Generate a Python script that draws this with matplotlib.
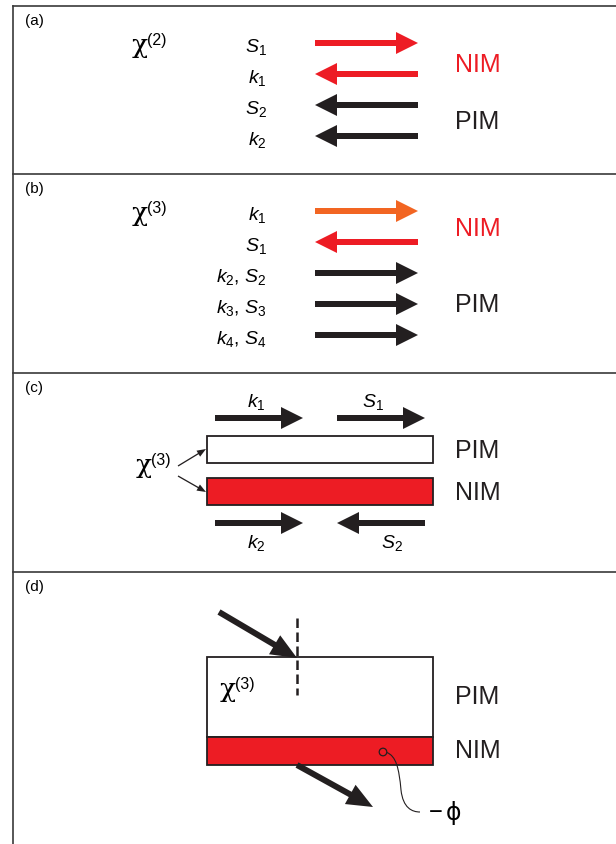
import matplotlib
matplotlib.use("Agg")
import matplotlib.pyplot as plt
from matplotlib.patches import Rectangle, Circle, PathPatch
from matplotlib.path import Path

plt.rcParams['font.family'] = ['Liberation Sans', 'DejaVu Sans']
plt.rcParams['mathtext.fontset'] = 'custom'
plt.rcParams['mathtext.rm'] = 'Liberation Sans'
plt.rcParams['mathtext.it'] = 'Liberation Sans:italic'

RED = '#ed1c24'
ORANGE = '#f26522'
BLACK = '#231f20'
FRAME = '#3a3a3a'

# panel (a): chi(2) waves
a_labels = [r'$S_1$', r'$k_1$', r'$S_2$', r'$k_2$']
a_dirs = [1, -1, -1, -1]
a_colors = [RED, RED, BLACK, BLACK]

# panel (b): chi(3) waves
b_labels = [r'$k_1$', r'$S_1$', r'$k_2$, $S_2$', r'$k_3$, $S_3$', r'$k_4$, $S_4$']
b_dirs = [1, -1, 1, 1, 1]
b_colors = [ORANGE, RED, BLACK, BLACK, BLACK]

# panel (c): waves above / below the slabs
c_top_labels = [r'$k_1$', r'$S_1$']
c_top_dirs = [1, 1]
c_bot_labels = [r'$k_2$', r'$S_2$']
c_bot_dirs = [1, -1]

panel_tags = ['(a)', '(b)', '(c)', '(d)']
panel_tops = [6, 174, 373, 572]

fig = plt.figure(figsize=(6.16, 8.44), dpi=100)
ax = fig.add_axes([0, 0, 1, 1])
ax.set_xlim(0, 616)
ax.set_ylim(844, 0)
ax.axis('off')


def arrow(x0, x1, y0, y1, color, w=6, hw=22, hl=22):
    ax.arrow(x0, y0, x1 - x0, y1 - y0, width=w, head_width=hw, head_length=hl,
             length_includes_head=True, color=color, lw=0)


def chi(x, yb, order):
    # chi drawn on baseline yb, superscript order tucked right after it
    ax.text(x, yb, 'χ', family='DejaVu Serif', fontsize=19, ha='left', va='baseline')
    ax.text(x + 15.5, yb - 8, '(%d)' % order, fontsize=11.5, ha='left', va='baseline')


def pim_nim(y_pim, y_nim, nim_color):
    ax.text(455, y_pim, 'PIM', color=BLACK, fontsize=18, ha='left', va='center')
    ax.text(455, y_nim, 'NIM', color=nim_color, fontsize=18, ha='left', va='center')


# frames
for y in panel_tops:
    ax.plot([13, 616], [y, y], color=FRAME, lw=1.2)
ax.plot([13, 13], [6, 844], color=FRAME, lw=1.2)
for tag, y in zip(panel_tags, panel_tops):
    ax.text(25, y + 15, tag, fontsize=11, ha='left', va='center')

AX0, AX1 = 315, 418  # arrow span in (a),(b)
LBL_X = 267

# (a)
chi(132, 53, 2)
for i, (lab, d, c) in enumerate(zip(a_labels, a_dirs, a_colors)):
    y = 43 + i * 31
    ax.text(LBL_X, y + 9, lab, fontsize=14, ha='right', va='baseline')
    if d > 0:
        arrow(AX0, AX1, y, y, c)
    else:
        arrow(AX1, AX0, y, y, c)
pim_nim(122, 65, RED)

# (b)
chi(132, 221, 3)
for i, (lab, d, c) in enumerate(zip(b_labels, b_dirs, b_colors)):
    y = 211 + i * 31
    ax.text(LBL_X, y + 9, lab, fontsize=14, ha='right', va='baseline')
    if d > 0:
        arrow(AX0, AX1, y, y, c)
    else:
        arrow(AX1, AX0, y, y, c)
pim_nim(305, 229, RED)

# (c)
SLAB_X0, SLAB_X1 = 207, 433
ax.add_patch(Rectangle((SLAB_X0, 436), SLAB_X1 - SLAB_X0, 27, fc='white', ec=BLACK, lw=1.3))
ax.add_patch(Rectangle((SLAB_X0, 478), SLAB_X1 - SLAB_X0, 27, fc=RED, ec=BLACK, lw=1.3))
spans = [(215, 303), (337, 425)]
top_lbl_x = [256, 373]
bot_lbl_x = [256, 392]
for (x0, x1), lx, lab, d in zip(spans, top_lbl_x, c_top_labels, c_top_dirs):
    if d > 0:
        arrow(x0, x1, 418, 418, BLACK)
    else:
        arrow(x1, x0, 418, 418, BLACK)
    ax.text(lx, 407, lab, fontsize=14, ha='center', va='baseline')
for (x0, x1), lx, lab, d in zip(spans, bot_lbl_x, c_bot_labels, c_bot_dirs):
    if d > 0:
        arrow(x0, x1, 523, 523, BLACK)
    else:
        arrow(x1, x0, 523, 523, BLACK)
    ax.text(lx, 548, lab, fontsize=14, ha='center', va='baseline')
chi(136, 473, 3)
arrow(178, 206, 466, 449, BLACK, w=1.3, hw=7, hl=9)
arrow(178, 206, 476, 492, BLACK, w=1.3, hw=7, hl=9)
pim_nim(451, 493, BLACK)

# (d)
ax.add_patch(Rectangle((SLAB_X0, 657), SLAB_X1 - SLAB_X0, 80, fc='white', ec=BLACK, lw=1.3))
ax.add_patch(Rectangle((SLAB_X0, 737), SLAB_X1 - SLAB_X0, 28, fc=RED, ec=BLACK, lw=1.3))
ax.plot([297, 297], [618, 695], color=BLACK, lw=1.8, ls=(0, (3.8, 1.8)))
arrow(219, 297, 612, 658, BLACK, w=6, hw=22, hl=26)
arrow(297, 373, 765, 807, BLACK, w=6, hw=22, hl=26)
chi(220, 697, 3)
ax.add_patch(Circle((383, 752), 3.8, fc='none', ec=BLACK, lw=0.9))
curve = Path([(386.8, 752.5), (396, 756), (399, 768), (401, 790), (403, 808), (412, 812), (420, 812)],
             [Path.MOVETO, Path.CURVE4, Path.CURVE4, Path.CURVE4, Path.CURVE4, Path.CURVE4, Path.CURVE4])
ax.add_patch(PathPatch(curve, fc='none', ec=BLACK, lw=0.8))
ax.text(429, 813, '−', fontsize=17, ha='left', va='center')
ax.text(446, 813, 'ϕ', family='DejaVu Sans', fontsize=17, ha='left', va='center')
pim_nim(697, 751, BLACK)

fig.savefig('out.png', dpi=100)
